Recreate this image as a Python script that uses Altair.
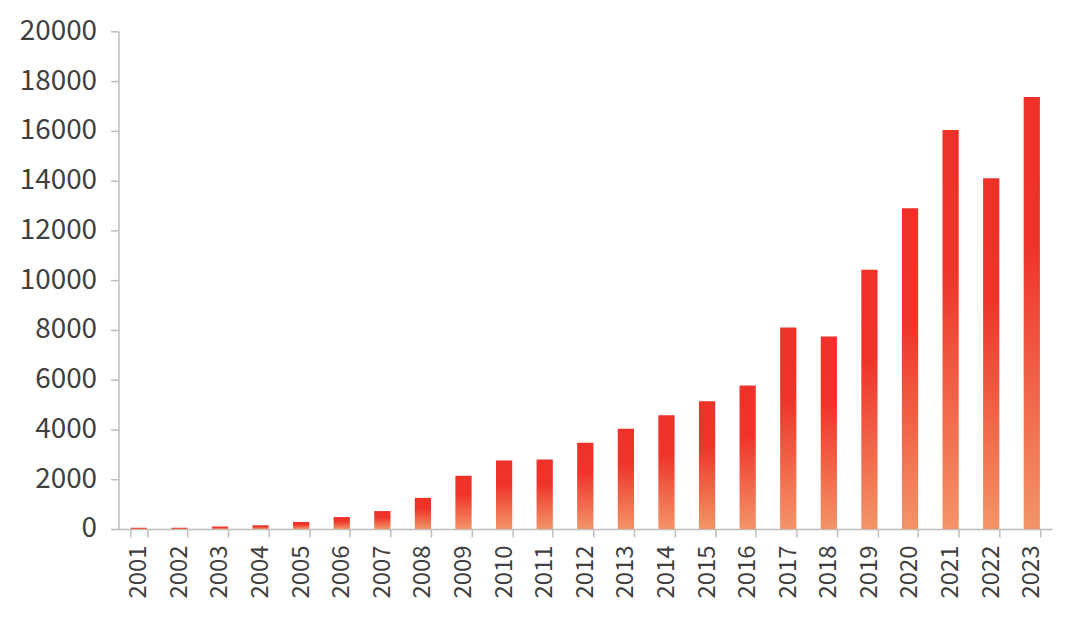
import altair as alt
import pandas as pd

years = [str(y) for y in range(2001, 2024)]
values = [50, 50, 100, 150, 280, 480, 720, 1250, 2140, 2750, 2790, 3470,
          4030, 4570, 5130, 5770, 8100, 7740, 10420, 12890, 16030, 14100, 17360]
y_ticks = list(range(0, 20001, 2000))

df = pd.DataFrame({"year": years, "value": values})

grad = alt.Gradient(
    gradient="linear",
    stops=[
        alt.GradientStop(color="#EE3129", offset=0),
        alt.GradientStop(color="#EE3429", offset=0.35),
        alt.GradientStop(color="#F39468", offset=1),
    ],
    x1=1, x2=1, y1=0, y2=1,
)

bars = alt.Chart(df).mark_bar(color=grad).encode(
    x=alt.X("year:N", sort=years, title=None,
            scale=alt.Scale(paddingInner=0.6, paddingOuter=0.3),
            axis=alt.Axis(labelAngle=-90, labelFontSize=24, labelPadding=8,
                          tickBand="extent", tickSize=8)),
    y=alt.Y("value:Q", title=None,
            scale=alt.Scale(domain=[0, 20000], nice=False),
            axis=alt.Axis(values=y_ticks, format="d", labelFontSize=28,
                          labelPadding=14, tickSize=8, grid=False)),
)

chart = bars.properties(
    width=938, height=500,
    autosize=alt.AutoSizeParams(type="none"),
    padding={"left": 111, "top": 22, "right": 20, "bottom": 90},
).configure_view(stroke=None).configure_axis(
    labelFont="Noto Sans CJK SC",
    labelColor="#404040",
    domainColor="#BDBDBD",
    domainWidth=1.5,
    tickColor="#BDBDBD",
    tickWidth=1.5,
)

chart.save("out.html", embed_options={"renderer": "svg", "actions": False})
